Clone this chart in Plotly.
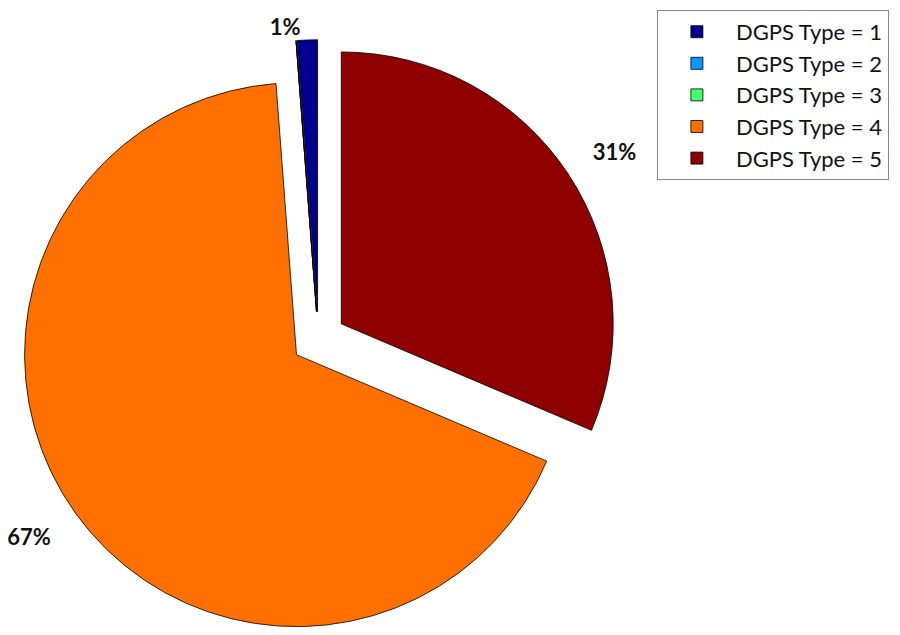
import plotly.graph_objects as go

labels = ["DGPS Type = 1", "DGPS Type = 2", "DGPS Type = 3", "DGPS Type = 4", "DGPS Type = 5"]
values = [1.2, 0, 0, 67.4, 31.4]
colors = ["#00008F", "#0099FF", "#40FF6A", "#FF7000", "#8F0000"]
pulls = [0.1, 0.1, 0.1, 0.1, 0.1]

NB = "\u00a0"
# percent labels; padding pushes the outside labels a bit further from the rim
templates = [
    "%{percent:.0%}",
    "",
    "",
    NB + "<br>%{percent:.0%}" + NB * 2,
    NB * 2 + "%{percent:.0%}<br>" + NB,
]

# first slice starts at 12 o'clock and slices run counterclockwise
start_rotation = -360.0 * values[0] / sum(values)

fig = go.Figure(go.Pie(
    labels=labels,
    values=values,
    sort=False,
    direction="counterclockwise",
    rotation=start_rotation,
    pull=pulls,
    marker=dict(colors=colors, line=dict(color="#000000", width=0.8)),
    texttemplate=templates,
    textposition="outside",
    textfont=dict(family="Lato", size=22, color="#111111", weight="bold"),
    domain=dict(x=[0.0098, 0.6804], y=[0.0079, 0.950]),
    hoverinfo="label+percent",
))

fig.update_layout(
    width=900, height=635,
    margin=dict(l=0, r=0, t=0, b=0, autoexpand=False),
    paper_bgcolor="white",
    plot_bgcolor="white",
    showlegend=True,
    legend=dict(
        x=0.721, y=0.997, xanchor="left", yanchor="top",
        bordercolor="#888888", borderwidth=1,
        font=dict(family="Lato", size=22, color="#111111"),
        tracegroupgap=0, itemwidth=68,
        traceorder="normal",
    ),
)

fig.write_html("out.html")
